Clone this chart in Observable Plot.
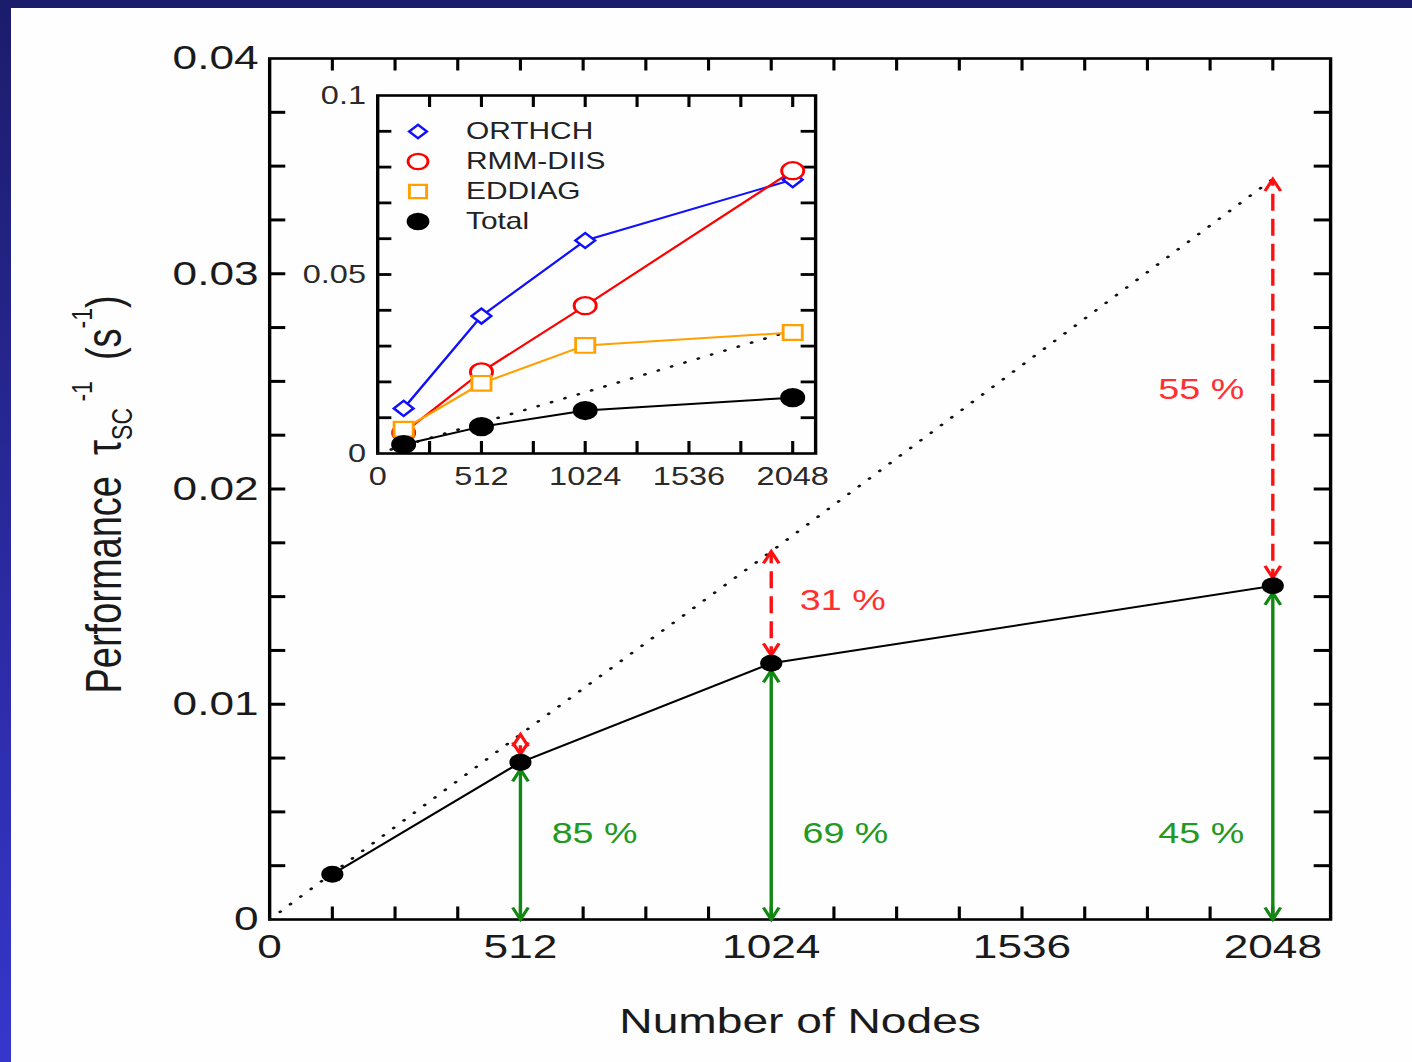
<!DOCTYPE html>
<html>
<head>
<meta charset="utf-8">
<script src="https://cdn.jsdelivr.net/npm/d3@7"></script>
<script src="https://cdn.jsdelivr.net/npm/@observablehq/plot@0.6"></script>
<style>
html, body { margin: 0; padding: 0; }
body { width: 1412px; height: 1062px; position: relative; overflow: hidden;
  background: linear-gradient(to bottom, #1c1c6c 0%, #3636cc 100%);
  font-family: "Liberation Sans", Arial, sans-serif; }
#panel { position: absolute; left: 11px; top: 8px; right: 0; bottom: 0; background: #fefefe; }
#wrap { position: absolute; left: 0; top: 0; width: 1086px; height: 1062px;
  transform: scaleX(1.30018); transform-origin: 0 0; }
#wrap > div { position: absolute; }
</style>
</head>
<body>
<div id="panel"></div>
<div id="wrap">
  <div id="main" style="left:0;top:0"></div>
  <div id="inset" style="left:220px;top:70px"></div>
  <div id="legend" style="left:308.7px;top:114px"></div>
</div>
<script>
// ---------------- data ----------------
const nodes = [128, 512, 1024, 2048];
const totalPerf = [0.0021, 0.0073, 0.0119, 0.0155];
const idealNodes = [0, 512, 1024, 2048];
const idealPerf = [0, 0.0086, 0.0171, 0.0344];

const arrowNodes = [512, 1024, 2048];
const arrowTotal = [0.0073, 0.0119, 0.0155];
const arrowIdeal = [0.0086, 0.0171, 0.0344];

const greenNodes = [512, 1024, 2048];
const greenText = ["85 %", "69 %", "45 %"];
const greenY = [0.004, 0.004, 0.004];
const redNodes = [1024, 2048];
const redText = ["31 %", "55 %"];
const redY = [0.0148, 0.0246];

const insetSeries = ["ORTHCH", "RMM-DIIS", "EDDIAG", "Total"];
const insetNodes = [128, 512, 1024, 2048];
const orthch = [0.0126, 0.0384, 0.0595, 0.0765];
const rmmdiis = [0.0058, 0.0228, 0.0413, 0.0790];
const eddiag = [0.0068, 0.0196, 0.0302, 0.0338];
const insetTotal = [0.0025, 0.0075, 0.0120, 0.0156];

const mainXLabels = [0, 512, 1024, 1536, 2048];
const mainYLabels = [0, 0.01, 0.02, 0.03, 0.04];
const insetXLabels = [0, 512, 1024, 1536, 2048];
const insetYLabels = [0, 0.05, 0.1];

const xTitle = "Number of Nodes";
const yTitle = "Performance τSC-1 (s-1)";

// ---------------- styling ----------------
const FONT = "'Liberation Sans', Arial, Helvetica, sans-serif";
const SVGSTYLE = `background:transparent;overflow:visible;max-width:none;font-family:${FONT};`;
const INK = "#1a1a1a";
const GREEN = "#118811";
const GREEN_TXT = "#229922";
const RED = "#ff1010";
const RED_TXT = "#ff3030";
const BLUE = "#1010ff";
const ORANGE = "#ffa000";

const headUp = { draw(ctx, size) { const r = Math.sqrt(size / Math.PI);
  ctx.moveTo(-0.5 * r, r); ctx.lineTo(0, 0); ctx.lineTo(0.5 * r, r); } };
const headDown = { draw(ctx, size) { const r = Math.sqrt(size / Math.PI);
  ctx.moveTo(-0.5 * r, -r); ctx.lineTo(0, 0); ctx.lineTo(0.5 * r, -r); } };

const yFmt = d => d === 0 ? "0" : String(d);

// ---------------- main chart ----------------
const W = 1086, H = 1062;
const mL = 206.9, mR = 63.1, mT = 58, mB = 143;
const pW = W - mL - mR, pH = H - mT - mB;
const TK = 12.5;

const mainData = nodes.map((x, i) => ({x, y: totalPerf[i]}));
const idealData = idealNodes.map((x, i) => ({x, y: idealPerf[i]}));
const arrowData = arrowNodes.map((x, i) => ({x, lo: 0, tot: arrowTotal[i], ideal: arrowIdeal[i]}));
const greenData = greenNodes.map((x, i) => ({x, y: greenY[i], t: greenText[i]}));
const redData = redNodes.map((x, i) => ({x, y: redY[i], t: redText[i]}));

const minorX = d3.range(128, 2166, 128);
const minorY = d3.range(1, 16).map(i => i * 0.0025);

const mainPlot = Plot.plot({
  width: W, height: H,
  marginLeft: mL, marginRight: mR, marginTop: mT, marginBottom: mB,
  style: SVGSTYLE,
  x: {domain: [0, 2166]},
  y: {domain: [0, 0.04]},
  marks: [
    Plot.tickX(minorX, {x: d => d, insetTop: pH - TK, stroke: "#000", strokeWidth: 2.4}),
    Plot.tickX(minorX, {x: d => d, insetBottom: pH - TK, stroke: "#000", strokeWidth: 2.4}),
    Plot.tickY(minorY, {y: d => d, insetRight: pW - TK, stroke: "#000", strokeWidth: 3}),
    Plot.tickY(minorY, {y: d => d, insetLeft: pW - TK, stroke: "#000", strokeWidth: 3}),
    Plot.axisX({ticks: mainXLabels, anchor: "bottom", tickSize: 0, tickPadding: 14,
      tickFormat: d => String(d), fontSize: 34, fill: INK, label: null}),
    Plot.axisY({ticks: mainYLabels, anchor: "left", tickSize: 0, tickPadding: 8.5,
      tickFormat: yFmt, fontSize: 34, fill: INK, label: null}),
    Plot.frame({stroke: "#000", strokeWidth: 2.6}),
    Plot.line(idealData, {x: "x", y: "y", stroke: "#111", strokeWidth: 2.5,
      strokeDasharray: "0.5,10.5", strokeLinecap: "round"}),
    Plot.line(mainData, {x: "x", y: "y", stroke: "#000", strokeWidth: 2}),
    // green double arrows (0 -> total)
    Plot.link(arrowData, {x1: "x", x2: "x", y1: "lo", y2: "tot", stroke: GREEN, strokeWidth: 2.6}),
    Plot.dot(arrowData, {x: "x", y: "lo", symbol: headDown, r: 12, fill: "none", stroke: GREEN, strokeWidth: 2.6}),
    Plot.dot(arrowData, {x: "x", y: "tot", dy: 7, symbol: headUp, r: 12, fill: "none", stroke: GREEN, strokeWidth: 2.6}),
    // red dashed double arrows (total -> ideal)
    Plot.link(arrowData, {x1: "x", x2: "x", y1: "tot", y2: "ideal", stroke: RED, strokeWidth: 2.6, strokeDasharray: "17,8"}),
    Plot.dot(arrowData, {x: "x", y: "ideal", symbol: headUp, r: 12, fill: "none", stroke: RED, strokeWidth: 2.6}),
    Plot.dot(arrowData, {x: "x", y: "tot", dy: -8, symbol: headDown, r: 12, fill: "none", stroke: RED, strokeWidth: 2.6}),
    Plot.dot(mainData, {x: "x", y: "y", r: 8.5, fill: "#000", stroke: "none"}),
    // percentage labels
    Plot.text(greenData.filter(d => d.x < 2048), {x: "x", y: "y", text: "t", textAnchor: "start", dx: 24, fontSize: 29, fill: GREEN_TXT}),
    Plot.text(greenData.filter(d => d.x >= 2048), {x: "x", y: "y", text: "t", textAnchor: "end", dx: -22, fontSize: 29, fill: GREEN_TXT}),
    Plot.text(redData.filter(d => d.x < 2048), {x: "x", y: "y", text: "t", textAnchor: "start", dx: 22, fontSize: 29, fill: RED_TXT}),
    Plot.text(redData.filter(d => d.x >= 2048), {x: "x", y: "y", text: "t", textAnchor: "end", dx: -22, fontSize: 29, fill: RED_TXT}),
    // axis titles
    Plot.text([xTitle], {text: d => d, frameAnchor: "bottom", dy: 113, fontSize: 35.5, fill: INK}),
    Plot.text([yTitle], {text: d => d, frameAnchor: "left", dx: -126.8, dy: 204.5, rotate: -90,
      textAnchor: "start", fontSize: 38, fill: INK})
  ]
});
document.getElementById("main").appendChild(mainPlot);

// rich y title with sub/superscripts
(function () {
  const t = Array.from(mainPlot.querySelectorAll("text")).find(e => e.textContent.startsWith("Performance"));
  if (!t) return;
  t.textContent = "";
  const NS = "http://www.w3.org/2000/svg";
  const parts = [
    ["Performance  ", null, 0],
    ["τ", null, 0],
    ["SC", 23, 9],
    [" -1", 23, -31],
    ["  (s", null, 22],
    ["-1", 23, -22],
    [")", null, 22]
  ];
  for (const [s, fs, dy] of parts) {
    const sp = document.createElementNS(NS, "tspan");
    sp.textContent = s;
    if (fs) sp.setAttribute("font-size", fs);
    if (dy) sp.setAttribute("dy", dy);
    t.appendChild(sp);
  }
})();

// ---------------- inset chart ----------------
const iW = 460, iH = 440, iL = 70, iR = 53.2, iT = 25, iB = 57;
const ipW = iW - iL - iR, ipH = iH - iT - iB;
const ITK = 12, ITKY = 11;
const insetMinorX = d3.range(256, 2161, 256);
const insetMinorY = d3.range(1, 10).map(i => i * 0.01);

const seriesDefs = [
  {name: "ORTHCH", values: orthch, color: BLUE, symbol: "diamond2", r: 6.8, fill: "#fff"},
  {name: "RMM-DIIS", values: rmmdiis, color: "#ff0000", symbol: "circle", r: 8.5, fill: "#fff"},
  {name: "EDDIAG", values: eddiag, color: ORANGE, symbol: "square", r: 8.3, fill: "#fff"},
  {name: "Total", values: insetTotal, color: "#000", symbol: "circle", r: 8.5, fill: "#000"}
];
const seriesData = seriesDefs.map(s => ({...s, pts: insetNodes.map((x, i) => ({x, y: s.values[i]}))}));

const insetPlot = Plot.plot({
  width: iW, height: iH,
  marginLeft: iL, marginRight: iR, marginTop: iT, marginBottom: iB,
  style: SVGSTYLE,
  x: {domain: [0, 2161]},
  y: {domain: [0, 0.1]},
  marks: [
    Plot.tickX(insetMinorX, {x: d => d, insetTop: ipH - ITK, stroke: "#000", strokeWidth: 2.4}),
    Plot.tickX(insetMinorX, {x: d => d, insetBottom: ipH - ITK, stroke: "#000", strokeWidth: 2.4}),
    Plot.tickY(insetMinorY, {y: d => d, insetRight: ipW - ITKY, stroke: "#000", strokeWidth: 2.8}),
    Plot.tickY(insetMinorY, {y: d => d, insetLeft: ipW - ITKY, stroke: "#000", strokeWidth: 2.8}),
    Plot.axisX({ticks: insetXLabels, anchor: "bottom", tickSize: 0, tickPadding: 14,
      tickFormat: d => String(d), fontSize: 25, fill: "#2a2a2a", label: null}),
    Plot.axisY({ticks: insetYLabels, anchor: "left", tickSize: 0, tickPadding: 9,
      tickFormat: yFmt, fontSize: 25, fill: "#2a2a2a", label: null}),
    Plot.frame({stroke: "#000", strokeWidth: 2.6}),
    Plot.line(idealData, {x: "x", y: "y", stroke: "#111", strokeWidth: 2.5,
      strokeDasharray: "0.5,10.5", strokeLinecap: "round"}),
    ...seriesData.map(s => Plot.line(s.pts, {x: "x", y: "y", stroke: s.color, strokeWidth: 2})),
    ...seriesData.map(s => Plot.dot(s.pts, {x: "x", y: "y", symbol: s.symbol, r: s.r,
      fill: s.fill, stroke: s.color, strokeWidth: 2.2}))
  ]
});
document.getElementById("inset").appendChild(insetPlot);

// ---------------- inset legend ----------------
const legendPlot = Plot.plot({
  width: 200, height: 123,
  marginLeft: 12, marginRight: 0, marginTop: 16, marginBottom: 16,
  style: SVGSTYLE,
  y: {type: "point", domain: insetSeries, padding: 0, axis: null},
  marks: [
    ...seriesDefs.map(s => Plot.dot([s.name], {y: d => d, frameAnchor: "left", symbol: s.symbol,
      r: s.r * 0.9, fill: s.fill, stroke: s.color, strokeWidth: 2.2})),
    Plot.text(insetSeries, {y: d => d, text: d => d, frameAnchor: "left", dx: 36.9,
      textAnchor: "start", fontSize: 23, fill: "#222"})
  ]
});
document.getElementById("legend").appendChild(legendPlot);
</script>
</body>
</html>
